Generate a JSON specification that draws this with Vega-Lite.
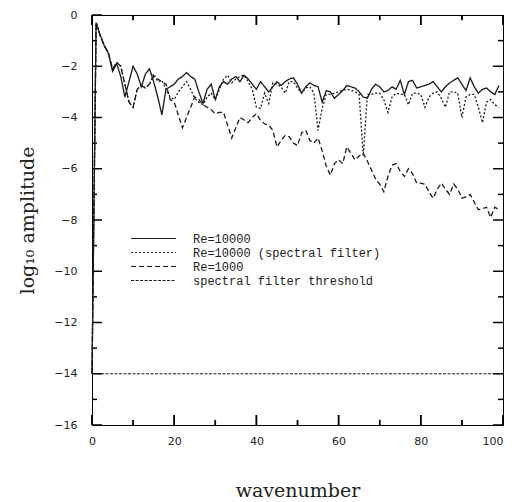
{
  "$schema": "https://vega.github.io/schema/vega-lite/v6.json",
  "autosize": "none",
  "width": 411,
  "height": 410,
  "padding": {"left": 92, "top": 15, "right": 9, "bottom": 77},
  "background": "white",
  "config": {
    "view": {"stroke": "black", "strokeWidth": 1},
    "axis": {"grid": false, "domain": false, "labelFlush": false, "labelColor": "#222", "labelFont": "DejaVu Sans", "labelFontSize": 11, "titleFont": "DejaVu Serif", "titleFontSize": 19, "titleFontWeight": "normal", "titleColor": "#222"}
  },
  "datasets": {
    "spec": [
      {"k":0,"a":-14,"b":-14,"c":-14},{"k":1,"a":-0.3,"b":-0.3,"c":-0.3},{"k":2,"a":-0.8,"b":-0.8,"c":-0.8},{"k":3,"a":-1.2,"b":-1.2,"c":-1.2},{"k":4,"a":-1.5,"b":-1.5,"c":-1.5},
      {"k":5,"a":-2.2,"b":-2.1,"c":-2.1},{"k":6,"a":-1.9,"b":-1.85,"c":-1.85},{"k":7,"a":-2.4,"b":-2.0,"c":-2.0},{"k":8,"a":-3.2,"b":-2.7,"c":-2.7},{"k":9,"a":-2.6,"b":-3.4,"c":-3.4},
      {"k":10,"a":-2.0,"b":-3.6,"c":-3.6},{"k":11,"a":-2.3,"b":-2.9,"c":-2.9},{"k":12,"a":-2.8,"b":-2.75,"c":-2.75},{"k":13,"a":-2.3,"b":-2.85,"c":-2.85},{"k":14,"a":-2.1,"b":-2.7,"c":-2.7},
      {"k":15,"a":-2.6,"b":-2.3,"c":-2.4},{"k":16,"a":-3.2,"b":-2.6,"c":-2.5},{"k":17,"a":-3.9,"b":-2.55,"c":-2.6},{"k":18,"a":-2.9,"b":-2.9,"c":-2.7},{"k":19,"a":-2.8,"b":-3.2,"c":-3.3},
      {"k":20,"a":-2.7,"b":-3.3,"c":-3.4},{"k":21,"a":-2.5,"b":-3.0,"c":-3.9},{"k":22,"a":-2.4,"b":-2.8,"c":-4.4},{"k":23,"a":-2.25,"b":-2.6,"c":-4.0},{"k":24,"a":-2.4,"b":-2.9,"c":-3.6},
      {"k":25,"a":-2.5,"b":-3.25,"c":-3.2},{"k":26,"a":-3.0,"b":-3.4,"c":-3.3},{"k":27,"a":-3.45,"b":-3.5,"c":-3.5},{"k":28,"a":-2.9,"b":-3.2,"c":-3.6},{"k":29,"a":-2.7,"b":-3.05,"c":-3.7},
      {"k":30,"a":-3.3,"b":-3.3,"c":-3.85},{"k":31,"a":-2.8,"b":-2.9,"c":-3.8},{"k":32,"a":-2.6,"b":-2.5,"c":-3.8},{"k":33,"a":-2.7,"b":-2.35,"c":-4.3},{"k":34,"a":-2.5,"b":-2.65,"c":-4.8},
      {"k":35,"a":-2.4,"b":-2.5,"c":-4.4},{"k":36,"a":-2.6,"b":-2.4,"c":-4.0},{"k":37,"a":-2.35,"b":-2.35,"c":-4.1},{"k":38,"a":-2.5,"b":-2.6,"c":-4.2},{"k":39,"a":-2.7,"b":-2.9,"c":-4.0},
      {"k":40,"a":-2.9,"b":-3.6,"c":-3.85},{"k":41,"a":-2.6,"b":-3.65,"c":-4.1},{"k":42,"a":-2.8,"b":-3.05,"c":-4.25},{"k":43,"a":-3.0,"b":-3.45,"c":-4.3},{"k":44,"a":-2.8,"b":-2.65,"c":-4.5},
      {"k":45,"a":-2.6,"b":-2.7,"c":-5.15},{"k":46,"a":-2.75,"b":-2.8,"c":-4.9},{"k":47,"a":-2.6,"b":-3.05,"c":-4.7},{"k":48,"a":-2.5,"b":-2.6,"c":-4.75},{"k":49,"a":-2.45,"b":-2.6,"c":-5.0},
      {"k":50,"a":-2.7,"b":-2.85,"c":-5.1},{"k":51,"a":-3.05,"b":-3.05,"c":-4.6},{"k":52,"a":-2.8,"b":-2.85,"c":-4.5},{"k":53,"a":-2.65,"b":-2.8,"c":-4.9},{"k":54,"a":-2.75,"b":-3.05,"c":-5.0},
      {"k":55,"a":-2.8,"b":-4.5,"c":-4.8},{"k":56,"a":-3.4,"b":-3.65,"c":-5.3},{"k":57,"a":-2.95,"b":-3.1,"c":-5.9},{"k":58,"a":-3.0,"b":-3.1,"c":-6.25},{"k":59,"a":-3.25,"b":-3.05,"c":-5.8},
      {"k":60,"a":-3.1,"b":-3.0,"c":-5.65},{"k":61,"a":-2.95,"b":-2.93,"c":-5.8},{"k":62,"a":-2.75,"b":-2.9,"c":-5.15},{"k":63,"a":-2.8,"b":-2.93,"c":-5.4},{"k":64,"a":-2.85,"b":-3.0,"c":-5.66},
      {"k":65,"a":-3.0,"b":-3.1,"c":-5.5},{"k":66,"a":-3.2,"b":-5.5,"c":-5.4},{"k":67,"a":-3.25,"b":-3.1,"c":-5.7},{"k":68,"a":-2.9,"b":-3.1,"c":-6.05},{"k":69,"a":-2.7,"b":-3.05,"c":-6.4},
      {"k":70,"a":-2.8,"b":-3.05,"c":-6.6},{"k":71,"a":-3.0,"b":-3.3,"c":-6.9},{"k":72,"a":-2.95,"b":-3.8,"c":-6.3},{"k":73,"a":-2.8,"b":-3.2,"c":-5.86},{"k":74,"a":-2.9,"b":-3.05,"c":-5.8},
      {"k":75,"a":-2.55,"b":-3.1,"c":-6.1},{"k":76,"a":-3.1,"b":-3.1,"c":-6.3},{"k":77,"a":-2.6,"b":-3.5,"c":-6.0},{"k":78,"a":-2.55,"b":-3.05,"c":-6.2},{"k":79,"a":-2.85,"b":-3.05,"c":-6.56},
      {"k":80,"a":-2.8,"b":-3.1,"c":-6.56},{"k":81,"a":-2.75,"b":-3.6,"c":-6.6},{"k":82,"a":-2.7,"b":-3.2,"c":-6.9},{"k":83,"a":-2.6,"b":-3.05,"c":-7.15},{"k":84,"a":-2.8,"b":-3.0,"c":-6.8},
      {"k":85,"a":-3.0,"b":-3.25,"c":-6.56},{"k":86,"a":-2.8,"b":-3.6,"c":-6.8},{"k":87,"a":-2.65,"b":-3.0,"c":-7.0},{"k":88,"a":-2.55,"b":-3.0,"c":-6.6},{"k":89,"a":-2.45,"b":-3.05,"c":-6.8},
      {"k":90,"a":-2.7,"b":-4.0,"c":-7.15},{"k":91,"a":-2.95,"b":-3.2,"c":-7.1},{"k":92,"a":-2.45,"b":-3.1,"c":-7.0},{"k":93,"a":-2.8,"b":-3.1,"c":-7.3},{"k":94,"a":-3.05,"b":-3.6,"c":-7.6},
      {"k":95,"a":-2.9,"b":-4.2,"c":-7.55},{"k":96,"a":-2.85,"b":-3.4,"c":-7.5},{"k":97,"a":-3.0,"b":-3.3,"c":-7.9},{"k":98,"a":-3.1,"b":-3.5,"c":-7.5},{"k":99,"a":-2.75,"b":-3.6,"c":-7.6}
    ],
    "thr": [{"k": 0, "v": -14, "s": "d"}, {"k": 100, "v": -14, "s": "d"}],
    "xt": [{"t":0,"m":"major"},{"t":10,"m":"minor"},{"t":20,"m":"major"},{"t":30,"m":"minor"},{"t":40,"m":"major"},{"t":50,"m":"minor"},{"t":60,"m":"major"},{"t":70,"m":"minor"},{"t":80,"m":"major"},{"t":90,"m":"minor"},{"t":100,"m":"major"}],
    "yt": [{"t":-16,"m":"major"},{"t":-15,"m":"minor"},{"t":-14,"m":"major"},{"t":-13,"m":"minor"},{"t":-12,"m":"major"},{"t":-11,"m":"minor"},{"t":-10,"m":"major"},{"t":-9,"m":"minor"},{"t":-8,"m":"major"},{"t":-7,"m":"minor"},{"t":-6,"m":"major"},{"t":-5,"m":"minor"},{"t":-4,"m":"major"},{"t":-3,"m":"minor"},{"t":-2,"m":"major"},{"t":-1,"m":"minor"},{"t":0,"m":"major"}]
  },
  "layer": [
    {
      "data": {"name": "xt"},
      "transform": [{"filter": "datum.m === 'major'"}],
      "mark": {"type": "rule", "color": "#000", "strokeWidth": 1.5},
      "encoding": {
        "x": {"field": "t", "type": "quantitative", "axis": null},
        "y": {"datum": -16, "type": "quantitative", "axis": null},
        "y2": {"datum": -15.61}
      }
    },
    {
      "data": {"name": "xt"},
      "transform": [{"filter": "datum.m === 'minor'"}],
      "mark": {"type": "rule", "color": "#000", "strokeWidth": 1.5},
      "encoding": {
        "x": {"field": "t", "type": "quantitative", "axis": null},
        "y": {"datum": -16, "type": "quantitative", "axis": null},
        "y2": {"datum": -15.8}
      }
    },
    {
      "data": {"name": "xt"},
      "transform": [{"filter": "datum.m === 'major'"}],
      "mark": {"type": "rule", "color": "#000", "strokeWidth": 1.5},
      "encoding": {
        "x": {"field": "t", "type": "quantitative", "axis": null},
        "y": {"datum": -0.001, "type": "quantitative", "axis": null},
        "y2": {"datum": -0.39}
      }
    },
    {
      "data": {"name": "xt"},
      "transform": [{"filter": "datum.m === 'minor'"}],
      "mark": {"type": "rule", "color": "#000", "strokeWidth": 1.5},
      "encoding": {
        "x": {"field": "t", "type": "quantitative", "axis": null},
        "y": {"datum": -0.001, "type": "quantitative", "axis": null},
        "y2": {"datum": -0.2}
      }
    },
    {
      "data": {"name": "xt"},
      "transform": [{"filter": "datum.m === 'major'"}],
      "mark": {"type": "rule", "color": "#000", "strokeWidth": 1.5},
      "encoding": {
        "x": {"field": "t", "type": "quantitative", "axis": null},
        "y": {"value": {"expr": "scale('y', -16)"}},
        "y2": {"value": {"expr": "scale('y', -16) - 10"}}
      }
    },
    {
      "data": {"name": "xt"},
      "transform": [{"filter": "datum.m === 'minor'"}],
      "mark": {"type": "rule", "color": "#000", "strokeWidth": 1.5},
      "encoding": {
        "x": {"field": "t", "type": "quantitative", "axis": null},
        "y": {"value": {"expr": "scale('y', -16)"}},
        "y2": {"value": {"expr": "scale('y', -16) - 5"}}
      }
    },
    {
      "data": {"name": "xt"},
      "transform": [{"filter": "datum.m === 'major'"}],
      "mark": {"type": "rule", "color": "#000", "strokeWidth": 1.5},
      "encoding": {
        "x": {"field": "t", "type": "quantitative", "axis": null},
        "y": {"value": {"expr": "scale('y', 0)"}},
        "y2": {"value": {"expr": "scale('y', 0) + 10"}}
      }
    },
    {
      "data": {"name": "xt"},
      "transform": [{"filter": "datum.m === 'minor'"}],
      "mark": {"type": "rule", "color": "#000", "strokeWidth": 1.5},
      "encoding": {
        "x": {"field": "t", "type": "quantitative", "axis": null},
        "y": {"value": {"expr": "scale('y', 0)"}},
        "y2": {"value": {"expr": "scale('y', 0) + 5"}}
      }
    },
    {
      "data": {"name": "yt"},
      "transform": [{"filter": "datum.m === 'major'"}],
      "mark": {"type": "rule", "color": "#000", "strokeWidth": 1.5},
      "encoding": {
        "y": {"field": "t", "type": "quantitative", "axis": null},
        "x": {"datum": 0.001, "type": "quantitative", "axis": null},
        "x2": {"datum": 2.43}
      }
    },
    {
      "data": {"name": "yt"},
      "transform": [{"filter": "datum.m === 'minor'"}],
      "mark": {"type": "rule", "color": "#000", "strokeWidth": 1.5},
      "encoding": {
        "y": {"field": "t", "type": "quantitative", "axis": null},
        "x": {"datum": 0.001, "type": "quantitative", "axis": null},
        "x2": {"datum": 1.22}
      }
    },
    {
      "data": {"name": "yt"},
      "mark": {"type": "tick", "orient": "horizontal", "clip": true, "color": "#000", "thickness": 1.5, "opacity": 1},
      "encoding": {
        "y": {"field": "t", "type": "quantitative", "axis": null},
        "x": {"datum": 100, "type": "quantitative", "axis": null},
        "size": {"field": "m", "type": "nominal", "scale": {"domain": ["major", "minor"], "range": [20, 10]}, "legend": null}
      }
    },
    {
      "data": {"name": "thr"},
      "mark": {"type": "line", "strokeWidth": 1.1, "color": "#1a1a1a"},
      "encoding": {
        "x": {"field": "k", "type": "quantitative", "axis": null},
        "y": {"field": "v", "type": "quantitative", "axis": null},
        "strokeDash": {"field": "s", "type": "nominal"}
      }
    },
    {
      "data": {"name": "spec"},
      "transform": [{"fold": ["a", "b", "c"], "as": ["s", "v"]}],
      "mark": {"type": "line", "strokeWidth": 1.3, "color": "#1a1a1a"},
      "encoding": {
        "x": {"field": "k", "type": "quantitative", "scale": {"domain": [0, 100], "nice": false},
          "axis": {"orient": "bottom", "title": "wavenumber", "titlePadding": 35, "values": [0,20,40,60,80,100], "ticks": false, "tickSize": 0, "labelPadding": 10,
            "labelAlign": {"condition": {"test": "datum.value === 100", "value": "right"}, "value": "center"}}},
        "y": {"field": "v", "type": "quantitative", "scale": {"domain": [-16, 0], "nice": false},
          "axis": {"orient": "left", "title": "log₁₀ amplitude", "titlePadding": 16, "values": [-16,-14,-12,-10,-8,-6,-4,-2,0], "ticks": false, "tickSize": 0, "labelPadding": 15}},
        "strokeDash": {"field": "s", "type": "nominal",
          "scale": {"domain": ["a", "b", "c", "d"], "range": [[1, 0], [2, 2], [5, 3], [3, 1.5]]},
          "legend": {"title": null, "orient": "none", "legendX": 54, "legendY": 216, "padding": 0, "rowPadding": 0, "labelLimit": 400,
            "symbolType": "M-3.5,0H3.5", "symbolSize": 164, "symbolStrokeColor": "#1a1a1a", "symbolStrokeWidth": 1.2,
            "labelFont": "Liberation Mono", "labelFontSize": 12, "labelColor": "#222", "labelOffset": 32,
            "labelExpr": "datum.value === 'a' ? 'Re=10000' : datum.value === 'b' ? 'Re=10000 (spectral filter)' : datum.value === 'c' ? 'Re=1000' : 'spectral filter threshold'"}},
        "detail": {"field": "s"}
      }
    }
  ],
  "resolve": {"axis": {"x": "independent", "y": "independent"}}
}
